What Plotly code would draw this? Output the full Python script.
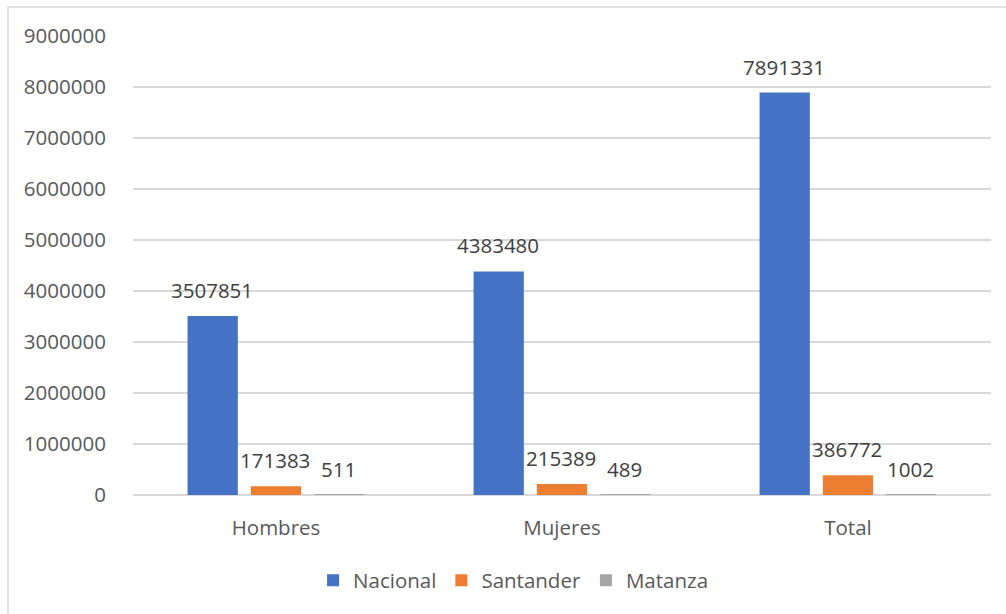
import plotly.graph_objects as go

categories = ["Hombres", "Mujeres", "Total"]
series_names = ["Nacional", "Santander", "Matanza"]
nacional = [3507851, 4383480, 7891331]
santander = [171383, 215389, 386772]
matanza = [511, 489, 1002]
y_ticks = [0, 1000000, 2000000, 3000000, 4000000, 5000000, 6000000, 7000000, 8000000, 9000000]

colors = ["#4472C4", "#ED7D31", "#A5A5A5"]
FONT = "Open Sans, Noto Sans, DejaVu Sans, sans-serif"
TXT = "#595959"
FS = 20.5

W, H = 1006, 614
ml, mr, mt, mb = 133, 15, 36, 119
pw = W - ml - mr
ph = H - mt - mb

fig = go.Figure()
all_series = [nacional, santander, matanza]
for name, vals, col in zip(series_names, all_series, colors):
    fig.add_trace(go.Bar(name=name, x=categories, y=vals, marker_color=col,
                         marker_line_width=0))

# data labels above bars
slot = 63.5
offsets = [-slot, 0, slot]
for vals, off in zip(all_series, offsets):
    for c, v in zip(categories, vals):
        fig.add_annotation(x=c, y=v, xref="x", yref="y", text=str(v),
                           showarrow=False, xshift=off - 1, yshift=10,
                           yanchor="bottom", xanchor="center",
                           font=dict(family=FONT, size=FS, color="#404040"))

# outer chart border (only top/left visible)
fig.add_shape(type="rect", xref="paper", yref="paper",
              x0=(8 - ml) / pw, x1=(W + 20 - ml) / pw,
              y0=-0.5, y1=(H - mb - 7) / ph,
              line=dict(color="#D9D9D9", width=1.5), fillcolor="rgba(0,0,0,0)",
              layer="below")

fig.update_layout(
    width=W, height=H,
    margin=dict(l=ml, r=mr, t=mt, b=mb),
    paper_bgcolor="white", plot_bgcolor="white",
    barmode="group", bargap=0.336, bargroupgap=0.206,
    font=dict(family=FONT, size=FS, color=TXT),
    showlegend=True,
    legend=dict(orientation="h", x=0.443, xanchor="center", y=-0.186, yanchor="middle",
                font=dict(family=FONT, size=FS, color=TXT),
                itemwidth=30, traceorder="normal"),
    xaxis=dict(showgrid=False, showline=False, ticks="outside", ticklen=14,
               tickcolor="rgba(0,0,0,0)", tickfont=dict(family=FONT, size=FS, color=TXT)),
    yaxis=dict(range=[0, 9000000], tickvals=y_ticks, ticktext=[str(t) for t in y_ticks],
               showgrid=True, gridcolor="#D9D9D9", gridwidth=1.5,
               zeroline=True, zerolinecolor="#D9D9D9", zerolinewidth=1.5,
               showline=False, ticks="outside", ticklen=22, tickcolor="rgba(0,0,0,0)",
               tickfont=dict(family=FONT, size=FS, color=TXT)),
)

fig.write_html("out.html", config={"displayModeBar": False},
               post_script="document.body.style.margin='0px';document.body.style.overflow='hidden';")
